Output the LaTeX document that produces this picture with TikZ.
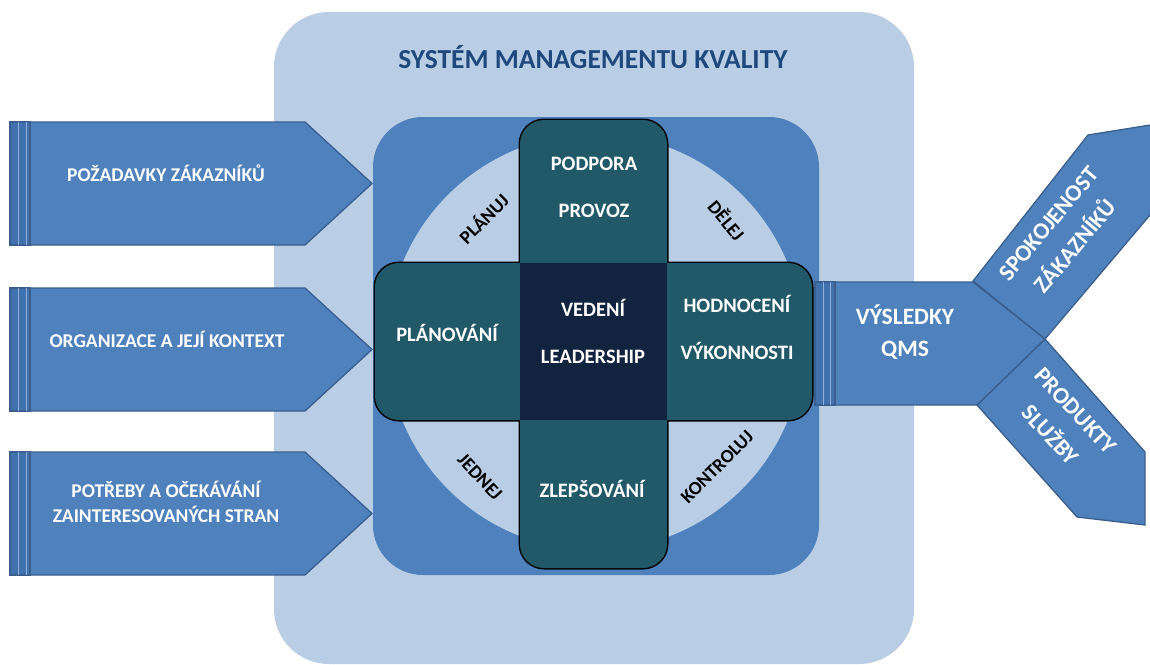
\documentclass[tikz,border=0pt]{standalone}
\usepackage{fontspec}
\setmainfont{Carlito}
\definecolor{svetla}{HTML}{B9CDE5}
\definecolor{modra}{HTML}{4F81BD}
\definecolor{tmava}{HTML}{3A5F8E}
\definecolor{pruh}{HTML}{4272AE}
\definecolor{linka}{HTML}{8FAEDA}
\definecolor{tyrkys}{HTML}{215968}
\definecolor{namornicka}{HTML}{11233F}
\definecolor{nadpis}{HTML}{1F497D}
\tikzset{
  sipka/.style={fill=modra,draw=tmava,line width=1.3pt,line join=miter},
  rameno/.style={fill=tyrkys,draw=black,line width=3pt,rounded corners=24pt},
  popis/.style={text=white,align=center,font=\bfseries\fontsize{19.5}{25}\selectfont},
  kriz/.style={text=white,align=center,font=\bfseries\fontsize{20.5}{47}\selectfont},
  vystup/.style={text=white,align=center,font=\bfseries\fontsize{23.5}{35}\selectfont},
  faze/.style={font=\bfseries\fontsize{19}{20}\selectfont},
}
\begin{document}
\begin{tikzpicture}[x=1pt,y=-1pt]
\useasboundingbox (0,0) rectangle (1150,664);
\clip (0,0) rectangle (1150,664);
% system
\fill[svetla,rounded corners=55pt] (274,12) rectangle (914,664);
\node [text=nadpis,font=\bfseries\fontsize{27.5}{30}\selectfont] (nadpis) at (593,57) {SYSTÉM MANAGEMENTU KVALITY};
\fill[modra,rounded corners=50pt] (373,117) rectangle (819,575);
\fill[svetla] (595,342) circle (208pt);
% vstupy
\foreach \t/\b in {122/245,288/411,452/575}{
  \draw[sipka] (30,\t) -- (305,\t) -- (372,{(\t+\b)/2}) -- (305,\b) -- (30,\b) -- cycle;
  \draw[sipka,fill=pruh] (10,\t) rectangle (30,\b);
  \draw[linka,line width=1.3pt] (18.5,\t) -- (18.5,\b) (26.5,\t) -- (26.5,\b);
}
\node [popis] (pozadavky) at (166,173) {POŽADAVKY ZÁKAZNÍKŮ};
\node [popis] (organizace) at (167,339) {ORGANIZACE A JEJÍ KONTEXT};
\node [popis] (potreby) at (166,502) {POTŘEBY A OČEKÁVÁNÍ\\ZAINTERESOVANÝCH STRAN};
% kriz
\draw[rameno] (520,120) rectangle (667,568);
\draw[rameno] (375,263) rectangle (812,420);
\fill[tyrkys,rounded corners=24pt] (520,120) rectangle (667,568);
\fill[tyrkys,rounded corners=24pt] (375,263) rectangle (812,420);
\fill[namornicka] (520,263) rectangle (667,420);
\node [kriz] (podpora) at (594,187) {PODPORA\\PROVOZ};
\node [kriz] (planovani) at (447,333) {PLÁNOVÁNÍ};
\node [kriz] (vedeni) at (593,331) {VEDENÍ\\LEADERSHIP};
\node [kriz] (hodnoceni) at (737,327) {HODNOCENÍ\\VÝKONNOSTI};
\node [kriz] (zlepsovani) at (592,489) {ZLEPŠOVÁNÍ};
\node [faze,rotate=45] (planuj) at (483,218) {PLÁNUJ};
\node [faze,rotate=-50] (delej) at (727,220) {DĚLEJ};
\node [faze,rotate=-47] (jednej) at (480,477) {JEDNEJ};
\node [faze,rotate=45] (kontroluj) at (717,467) {KONTROLUJ};
% vystupy
\draw[sipka] (973,281) -- (1088,135) -- (1200,117) -- (1200,156) -- (1045,339) -- cycle;
\draw[sipka] (977,405) -- (1077,517) -- (1145,525) -- (1145,452) -- (1045,339) -- cycle;
\draw[sipka] (835,282) -- (973,282) -- (1045,339) -- (977,405) -- (835,405) -- cycle;
\draw[sipka,fill=pruh] (815,282) rectangle (835,405);
\draw[linka,line width=1.3pt] (823.5,282) -- (823.5,405) (830.5,282) -- (830.5,405);
\node [vystup,font=\bfseries\fontsize{23.5}{32}\selectfont] (vysledky) at (905,332) {VÝSLEDKY\\QMS};
\node [vystup,rotate=50] (spokojenost) at (1062,235) {SPOKOJENOST\\ZÁKAZNÍKŮ};
\node [vystup,rotate=-47] (produkty) at (1063,423) {PRODUKTY\\SLUŽBY};
\end{tikzpicture}
\end{document}
